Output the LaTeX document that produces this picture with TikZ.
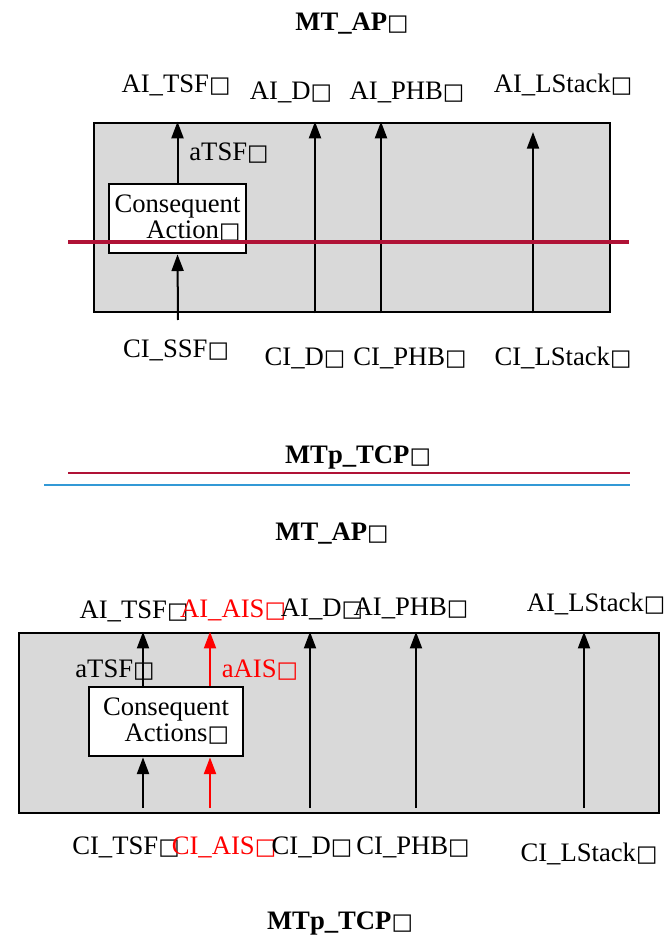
\documentclass[tikz,border=0pt]{standalone}
\usepackage{fontspec}
\setmainfont{Liberation Serif}
\newfontfamily\boxfont{DejaVu Sans}[Scale=0.85]
\usetikzlibrary{arrows.meta, positioning}
\definecolor{panelgray}{HTML}{D9D9D9}
\definecolor{cutred}{HTML}{B01236}
\definecolor{rulblue}{HTML}{3399D6}
\definecolor{aisred}{HTML}{FF0000}
\newcommand{\bx}{{\boxfont □}}

\begin{document}
\begin{tikzpicture}[
    x=0.75pt, y=-0.75pt,
    every node/.style={font=\fontsize{20}{23}\selectfont},
    lab/.style={anchor=base, inner sep=0pt},
    ttl/.style={lab, font=\fontsize{20}{23}\selectfont\bfseries},
    red lab/.style={lab, text=aisred},
    panel/.style={draw, fill=panelgray, line width=1.8pt, inner sep=0pt},
    action/.style={draw, fill=white, line width=1.8pt, align=right, inner sep=0pt,
        font=\fontsize{20}{19.5}\selectfont},
    flow/.style={line width=1.5pt, -{Triangle[length=12.5pt, width=9pt]}},
    red flow/.style={flow, draw=aisred},
]
\useasboundingbox (0,0) rectangle (667,944);

% ---- upper MT_AP
\node[ttl] (apA) at (352,31) {MT\_AP\bx};
\node[panel, minimum width=387pt, minimum height=142pt] (panA) at (352,217.5) {};
\node[action, minimum width=103pt, minimum height=52pt] (caA) at (177.5,218.5)
    {Consequent\\Action\bx};

\node[lab] (aitsfA) at (176,93) {AI\_TSF\bx};
\node[lab] (aidA) at (291,100) {AI\_D\bx};
\node[lab] (aiphbA) at (407,100) {AI\_PHB\bx};
\node[lab] (ailsA) at (563,93) {AI\_LStack\bx};
\node[lab] (atsfA) at (229,161) {aTSF\bx};

\node[lab] (cissfA) at (176,357) {CI\_SSF\bx};
\node[lab] (cidA) at (305,365) {CI\_D\bx};
\node[lab] (ciphbA) at (410,365) {CI\_PHB\bx};
\node[lab] (cilsA) at (563,365) {CI\_LStack\bx};

\coordinate (inA) at (178,320);
\coordinate (dA) at (315,0);
\coordinate (phbA) at (381,0);
\coordinate (lsA) at (533,132);

\draw[flow] (caA.north) -- (caA.north |- panA.north);
\draw[flow] (inA) -- (caA.south);
\draw[flow] (dA |- panA.south) -- (dA |- panA.north);
\draw[flow] (phbA |- panA.south) -- (phbA |- panA.north);
\draw[flow] (lsA |- panA.south) -- (lsA);

% the cut through it
\draw[cutred, line width=2.5pt] (68,242) -- (629,242);

\node[ttl] (tcpA) at (358,463) {MTp\_TCP\bx};
\draw[cutred, line width=1.5pt] (68,473) -- (630,473);
\draw[rulblue, line width=1.5pt] (44,485) -- (630,485);

% ---- lower MT_AP, with AIS
\node[ttl] (apB) at (332,540) {MT\_AP\bx};
\node[panel, minimum width=480pt, minimum height=135pt] (panB) at (339,723) {};
\node[action, minimum width=115.5pt, minimum height=52pt] (caB) at (166,721.5)
    {Consequent\\Actions\bx};

\node[lab] (aitsfB) at (134,618) {AI\_TSF\bx};
\node[red lab] (aiaisB) at (233,617) {AI\_AIS\bx};
\node[lab] (aidB) at (322,616) {AI\_D\bx};
\node[lab] (aiphbB) at (411,615) {AI\_PHB\bx};
\node[lab] (ailsB) at (596,611) {AI\_LStack\bx};
\node[lab] (atsfB) at (115,677) {aTSF\bx};
\node[red lab] (aaisB) at (260,677) {aAIS\bx};

\node[lab] (citsfB) at (126,854) {CI\_TSF\bx};
\node[red lab] (ciaisB) at (224,854) {CI\_AIS\bx};
\node[lab] (cidB) at (312,854) {CI\_D\bx};
\node[lab] (ciphbB) at (413,854) {CI\_PHB\bx};
\node[lab] (cilsB) at (589,861) {CI\_LStack\bx};

\coordinate (tsfB) at (143,808);
\coordinate (aisB) at (210,808);
\coordinate (dB) at (310,808);
\coordinate (phbB) at (416,808);
\coordinate (lsB) at (584,808);

\draw[flow] (tsfB) -- (tsfB |- caB.south);
\draw[red flow] (aisB) -- (aisB |- caB.south);
\draw[flow] (tsfB |- caB.north) -- (tsfB |- panB.north);
\draw[red flow] (aisB |- caB.north) -- (aisB |- panB.north);
\draw[flow] (dB) -- (dB |- panB.north);
\draw[flow] (phbB) -- (phbB |- panB.north);
\draw[flow] (lsB) -- (lsB |- panB.north);

\node[ttl] (tcpB) at (340,929) {MTp\_TCP\bx};
\end{tikzpicture}
\end{document}
